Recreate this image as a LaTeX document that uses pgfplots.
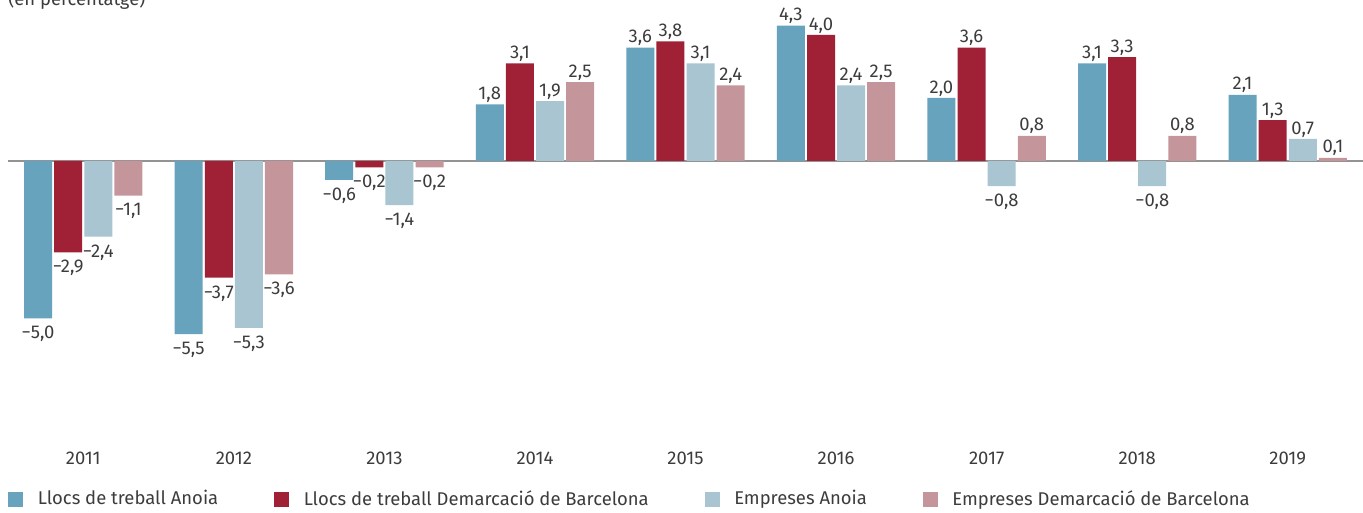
\documentclass[border=0pt]{standalone}
\usepackage{fontspec}
\setmainfont{Fira Sans}
\usepackage{pgfplots}
\usepackage{pgfplotstable}
\pgfplotsset{compat=1.18}

\definecolor{llocsA}{RGB}{103,163,189}
\definecolor{llocsB}{RGB}{160,32,54}
\definecolor{empA}{RGB}{168,197,209}
\definecolor{empB}{RGB}{196,149,155}
\definecolor{txt}{RGB}{60,60,60}

% x = any (0 = 2011), y = variació en %, lab = etiqueta
\pgfplotstableread{
x y lab
0 -5.0 −5,0
1 -5.5 −5,5
2 -0.6 −0,6
3 1.8 1,8
4 3.6 3,6
5 4.3 4,3
6 2.0 2,0
7 3.1 3,1
8 2.1 2,1
}\llocsanoia
\pgfplotstableread{
x y lab
0 -2.9 −2,9
1 -3.7 −3,7
2 -0.2 −0,2
3 3.1 3,1
4 3.8 3,8
5 4.0 4,0
6 3.6 3,6
7 3.3 3,3
8 1.3 1,3
}\llocsbcn
\pgfplotstableread{
x y lab
0 -2.4 −2,4
1 -5.3 −5,3
2 -1.4 −1,4
3 1.9 1,9
4 3.1 3,1
5 2.4 2,4
6 -0.8 −0,8
7 -0.8 −0,8
8 0.7 0,7
}\empanoia
\pgfplotstableread{
x y lab
0 -1.1 −1,1
1 -3.6 −3,6
2 -0.2 −0,2
3 2.5 2,5
4 2.4 2,4
5 2.5 2,5
6 0.8 0,8
7 0.8 0,8
8 0.1 0,1
}\empbcn

\begin{document}
\begin{tikzpicture}
\begin{axis}[
    at={(0.16cm,0)}, anchor=north west,
    scale only axis,
    width=27.1cm, height=9cm,
    xmin=-0.5, xmax=8.5,
    ymin=-9.175, ymax=5.111,
    ybar, bar width=0.186,
    xtick={0,...,8},
    xticklabels={2011,2012,2013,2014,2015,2016,2017,2018,2019},
    ytick=\empty,
    extra y ticks={0}, extra y tick labels={},
    extra y tick style={grid=major, grid style={draw=gray!85, line width=1pt}},
    axis line style={draw=none},
    major tick length=0pt,
    xticklabel style={font=\fontsize{10.5}{12}\selectfont, text=txt, inner sep=0pt, yshift=-0.03cm},
    nodes near coords,
    point meta=explicit symbolic,
    visualization depends on={rawy \as \valy},
    every node near coord/.append style={font=\fontsize{10.5}{12}\selectfont, text=txt,
        anchor={\ifdim\valy pt<0pt north\else south\fi},
        yshift={(\valy<0 ? -1 : -2.5)}},
    legend columns=4,
    legend style={at={(0,-0.109)}, anchor=west, draw=none, fill=none, inner sep=0pt,
        font=\fontsize{10.5}{12}\selectfont, text=txt,
        /tikz/every even column/.append style={column sep=1.05cm}},
    legend image code/.code={\fill[#1] (0cm,-0.15cm) rectangle (0.3cm,0.15cm); \path (0.52cm,0) -- (0.52cm,0);},
]
\addplot[fill=llocsA, draw=none, bar shift=-0.3] table[x=x, y=y, meta=lab] {\llocsanoia};
\addlegendentry{Llocs de treball Anoia}
\addplot[fill=llocsB, draw=none, bar shift=-0.1] table[x=x, y=y, meta=lab] {\llocsbcn};
\addlegendentry{Llocs de treball Demarcació de Barcelona}
\addplot[fill=empA, draw=none, bar shift=0.1] table[x=x, y=y, meta=lab] {\empanoia};
\addlegendentry{Empreses Anoia}
\addplot[fill=empB, draw=none, bar shift=0.3] table[x=x, y=y, meta=lab] {\empbcn};
\addlegendentry{Empreses Demarcació de Barcelona}
\end{axis}
\node[anchor=base west, inner sep=0pt, text=txt, font=\fontsize{10.5}{12}\selectfont] at (0.16cm,-0.1cm) {(en percentatge)};
\pgfresetboundingbox
\useasboundingbox (0,0) rectangle (27.26cm,-10.24cm);
\end{tikzpicture}
\end{document}
